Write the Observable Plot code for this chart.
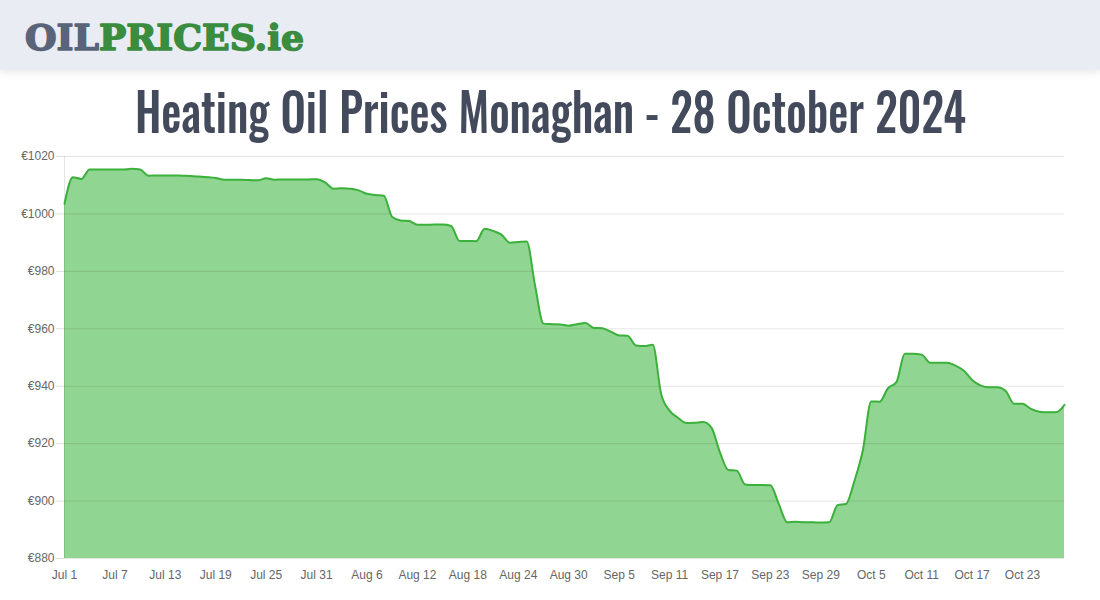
<!DOCTYPE html>
<html>
<head>
<meta charset="utf-8">
<script src="https://cdn.jsdelivr.net/npm/d3@7"></script>
<script src="https://cdn.jsdelivr.net/npm/@observablehq/plot@0.6"></script>
<style>
  html, body { margin: 0; padding: 0; background: #fff; width: 1100px; height: 600px; overflow: hidden; }
  #header { position: absolute; left: 0; top: 0; width: 1100px; height: 70px; background: #e9ecf3; box-shadow: 0 2px 8px rgba(0,0,0,0.10); }
  #title { position: absolute; left: 0; top: 78px; width: 1100px; height: 62px; }
  #chart { position: absolute; left: 0; top: 140px; }
</style>
</head>
<body>
<div id="header">
  <svg width="1100" height="70">
    <text x="25" y="50" textLength="279" lengthAdjust="spacingAndGlyphs"
      style="font-family:'DejaVu Serif',serif;font-weight:900;font-size:36px;stroke-width:1.6px;stroke-linejoin:round"><tspan fill="#5a6478" stroke="#5a6478">OIL</tspan><tspan fill="#3a8c3f" stroke="#3a8c3f">PRICES.ie</tspan></text>
  </svg>
</div>
<div id="title">
  <svg width="1100" height="72" style="overflow:visible">
    <text x="550.5" y="55" text-anchor="middle" textLength="831" lengthAdjust="spacingAndGlyphs"
      style="font-family:'Oswald','Liberation Sans Narrow','DejaVu Sans Condensed','Roboto',sans-serif;font-weight:500;font-size:52px;fill:#434a5c">Heating Oil Prices Monaghan - 28 October 2024</text>
  </svg>
</div>
<div id="chart"></div>
<script>
const startDate = "2024-07-01";
const prices = [
  1003.5, 1012.8, 1012.2, 1015.5, 1015.5, 1015.5, 1015.5, 1015.5, 1015.7, 1015.5,
  1013.3, 1013.4, 1013.4, 1013.4, 1013.3, 1013.2, 1013.0, 1012.8, 1012.5, 1011.9,
  1011.9, 1011.9, 1011.8, 1011.7, 1012.4, 1011.9, 1012.0, 1012.0, 1012.0, 1012.0,
  1012.1, 1011.0, 1008.8, 1008.9, 1008.8, 1008.2, 1007.0, 1006.6, 1006.3, 998.9,
  997.7, 997.5, 996.2, 996.2, 996.3, 996.3, 995.8, 990.6, 990.6, 990.5,
  994.8, 994.1, 992.8, 990.0, 990.2, 990.4, 975.0, 961.8, 961.6, 961.5,
  961.1, 961.6, 962.0, 960.3, 960.2, 959.0, 957.7, 957.6, 954.2, 954.0,
  954.4, 937.3, 931.5, 929.0, 927.2, 927.3, 927.5, 925.5, 917.0, 910.8,
  910.6, 905.8, 905.6, 905.6, 905.5, 899.0, 892.6, 892.8, 892.6, 892.6,
  892.5, 892.6, 898.6, 899.0, 907.0, 917.6, 934.7, 934.6, 939.3, 941.4,
  951.3, 951.3, 951.0, 948.2, 948.2, 948.2, 947.2, 945.5, 942.2, 940.3,
  939.6, 939.6, 938.3, 933.9, 933.9, 932.1, 931.1, 930.9, 930.9, 933.5
];
const xTickLabels = ["Jul 1","Jul 7","Jul 13","Jul 19","Jul 25","Jul 31","Aug 6","Aug 12","Aug 18","Aug 24",
  "Aug 30","Sep 5","Sep 11","Sep 17","Sep 23","Sep 29","Oct 5","Oct 11","Oct 17","Oct 23"];
const yTicks = [880, 900, 920, 940, 960, 980, 1000, 1020];

const t0 = d3.utcParse("%Y-%m-%d")(startDate);
const data = prices.map((v, i) => ({ date: d3.utcDay.offset(t0, i), price: v }));
const parseTick = d3.utcParse("%b %d %Y");
const xTicks = xTickLabels.map(s => parseTick(s + " 2024"));
const fmt = d3.utcFormat("%b %-d");

const chart = Plot.plot({
  width: 1100,
  height: 460,
  marginLeft: 64,
  marginRight: 36,
  marginTop: 16,
  marginBottom: 42,
  style: { fontFamily: "'Liberation Sans', Arial, sans-serif", fontSize: "12px", color: "#666", background: "transparent" },
  x: { type: "utc", domain: [data[0].date, data[data.length - 1].date] },
  y: { domain: [880, 1020] },
  marks: [
    Plot.areaY(data, { x: "date", y1: 880, y2: "price", fill: "#91d592", curve: "monotone-x" }),
    Plot.ruleY(yTicks, { stroke: "#000", strokeOpacity: 0.1 }),
    Plot.ruleX([data[0].date], { stroke: "#000", strokeOpacity: 0.1 }),
    Plot.lineY(data, { x: "date", y: "price", stroke: "#3bb03b", strokeWidth: 2, curve: "monotone-x" }),
    Plot.axisY({ ticks: yTicks, tickFormat: d => "€" + d, tickSize: 8, tickPadding: 2, stroke: "#e0e0e0", fill: "#666", label: null }),
    Plot.axisX({ ticks: xTicks, tickFormat: fmt, tickSize: 0, tickPadding: 12, fill: "#666", label: null })
  ]
});
document.getElementById("chart").appendChild(chart);
</script>
</body>
</html>
